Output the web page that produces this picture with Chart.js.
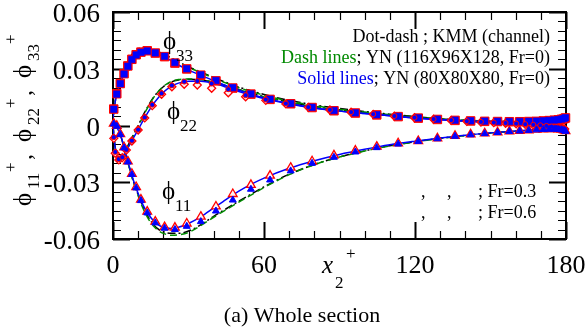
<!DOCTYPE html>
<html>
<head>
<meta charset="utf-8">
<script src="https://cdn.jsdelivr.net/npm/chart.js@4/dist/chart.umd.min.js"></script>
<style>
  html, body { margin: 0; padding: 0; background: #fff; }
  #wrap { width: 588px; height: 331px; }
</style>
</head>
<body>
<div id="wrap"><canvas id="chart" width="588" height="331"></canvas></div>
<script>
// ---- data ----
const xTicks = [0, 60, 120, 180];
const yTicks = [-0.06, -0.03, 0, 0.03, 0.06];

// x positions of the Fr=0 line profiles
const lineX = [0, 0.5, 1, 2, 3, 4, 5, 6, 7, 8, 10, 12, 14, 16, 18, 20, 23, 26, 30, 35, 40, 45, 50, 55, 60, 70, 80, 90, 100, 110, 120, 130, 140, 150, 160, 170, 180];

// Solid lines: YN (80X80X80, Fr=0)
const solid11 = [0.002, 0.0012, 0.0002, -0.0022, -0.0052, -0.0095, -0.0145, -0.0195, -0.024, -0.0285, -0.036, -0.0422, -0.0468, -0.0502, -0.0525, -0.0538, -0.0544, -0.0538, -0.0518, -0.0482, -0.0436, -0.039, -0.0347, -0.031, -0.0278, -0.0226, -0.0186, -0.0153, -0.0126, -0.0102, -0.0083, -0.0066, -0.0051, -0.0039, -0.0029, -0.0021, -0.0025];
const solid22 = [0, -0.0075, -0.013, -0.0175, -0.0178, -0.0165, -0.0142, -0.0117, -0.0092, -0.0068, -0.0022, 0.0027, 0.0072, 0.0113, 0.0147, 0.0176, 0.0206, 0.0224, 0.0234, 0.0234, 0.0223, 0.0203, 0.018, 0.016, 0.0142, 0.0114, 0.0092, 0.0076, 0.0063, 0.0051, 0.004, 0.003, 0.0022, 0.0015, 0.0008, 0.0, -0.0015];
const solid33 = [0.004, 0.009, 0.0135, 0.0188, 0.0226, 0.0262, 0.0292, 0.0318, 0.034, 0.036, 0.0383, 0.0392, 0.0394, 0.0388, 0.0377, 0.0365, 0.0343, 0.032, 0.0293, 0.0265, 0.0237, 0.021, 0.0186, 0.0165, 0.0146, 0.0116, 0.0093, 0.0076, 0.0064, 0.0052, 0.004, 0.0031, 0.0025, 0.0021, 0.002, 0.0022, 0.003];

// Dash lines: YN (116X96X128, Fr=0)
const dash11 = [0.002, 0.0012, 0.0002, -0.0022, -0.0052, -0.0097, -0.0148, -0.02, -0.0248, -0.0295, -0.0372, -0.044, -0.0492, -0.053, -0.0555, -0.057, -0.058, -0.0578, -0.0565, -0.0528, -0.0485, -0.0445, -0.0405, -0.0367, -0.0328, -0.026, -0.0207, -0.0167, -0.0135, -0.0108, -0.0087, -0.0069, -0.0053, -0.004, -0.003, -0.0023, -0.002];
const dash22 = [0, -0.0075, -0.0128, -0.017, -0.0172, -0.0158, -0.0135, -0.0108, -0.0082, -0.0056, -0.0005, 0.005, 0.01, 0.0145, 0.018, 0.0207, 0.0232, 0.0243, 0.0246, 0.0242, 0.0229, 0.021, 0.0189, 0.0169, 0.0151, 0.0122, 0.0099, 0.0081, 0.0067, 0.0054, 0.0043, 0.0033, 0.0024, 0.0017, 0.001, 0.0002, -0.001];
const dash33 = [0.004, 0.009, 0.0135, 0.019, 0.0232, 0.027, 0.03, 0.0328, 0.0352, 0.0372, 0.0395, 0.0404, 0.0404, 0.0398, 0.0387, 0.0375, 0.0355, 0.0334, 0.0307, 0.0279, 0.0251, 0.0224, 0.02, 0.0179, 0.016, 0.0129, 0.0105, 0.0086, 0.0071, 0.0057, 0.0045, 0.0035, 0.0028, 0.0023, 0.0021, 0.0021, 0.0025];

// Dot-dash: KMM (channel)
const kmm11 = [0.002, 0.0012, 0.0002, -0.0022, -0.0052, -0.0096, -0.0146, -0.0197, -0.0245, -0.0291, -0.0366, -0.0432, -0.0484, -0.0522, -0.0548, -0.0562, -0.057, -0.057, -0.0558, -0.0524, -0.048, -0.044, -0.04, -0.0362, -0.0324, -0.0258, -0.0206, -0.0166, -0.0134, -0.0107, -0.0086, -0.0068, -0.0052, -0.004, -0.003, -0.0023, -0.002];
const kmm22 = [0, -0.0075, -0.0125, -0.0168, -0.017, -0.0155, -0.0132, -0.0105, -0.0078, -0.0052, 0.0, 0.0055, 0.0104, 0.0147, 0.018, 0.0205, 0.0229, 0.024, 0.0244, 0.024, 0.0228, 0.021, 0.019, 0.0171, 0.0153, 0.0124, 0.0101, 0.0083, 0.0068, 0.0055, 0.0044, 0.0034, 0.0025, 0.0018, 0.0011, 0.0004, -0.0005];
const kmm33 = [0.004, 0.009, 0.0138, 0.0195, 0.024, 0.028, 0.0312, 0.034, 0.0365, 0.0385, 0.0405, 0.0412, 0.041, 0.0402, 0.039, 0.0378, 0.0358, 0.0337, 0.031, 0.0282, 0.0254, 0.0227, 0.0203, 0.0183, 0.0164, 0.0133, 0.0109, 0.009, 0.0074, 0.006, 0.0047, 0.0036, 0.0028, 0.0023, 0.0021, 0.0021, 0.0024];

// marker positions (phi11, phi33) and (phi22)
const gridM = [0.3, 1.5, 2.9, 4.4, 5.9, 7.5, 9.2, 11.1, 13.6, 16.8, 20.5, 24.6, 29.3, 34.9, 40.9, 47.6, 54.8, 62.4, 70.6, 79.1, 87.8, 96.3, 104.8, 113.3, 121.3, 128.9, 135.9, 142.1, 147.7, 152.8, 157.5, 161.6, 165.2, 168.3, 171.0, 173.3, 175.3, 176.9, 178.2, 179.2, 179.8];
const gridV = [0.3, 0.9, 2.3, 3.7, 5.3, 7.5, 10.0, 12.6, 15.6, 19.3, 23.4, 28.3, 33.5, 39.2, 45.8, 52.7, 60.7, 68.7, 77.6, 86.2, 94.6, 103.4, 111.8, 119.8, 127.4, 134.4, 140.6, 146.2, 151.3, 156.0, 160.2, 163.8, 167.0, 169.8, 172.2, 174.3, 176.1, 177.6, 178.7, 179.5];

// Fr=0.3
const fr3_11 = [0.001, -0.0002, -0.0045, -0.0115, -0.019, -0.0255, -0.0325, -0.0392, -0.0455, -0.0508, -0.0537, -0.054, -0.0518, -0.0482, -0.0428, -0.0362, -0.0314, -0.0265, -0.0223, -0.0189, -0.0158, -0.0133, -0.0112, -0.0094, -0.0082, -0.0068, -0.0055, -0.0047, -0.0041, -0.0036, -0.0031, -0.0028, -0.0025, -0.0022, -0.002, -0.0019, -0.0019, -0.002, -0.0022, -0.0025, -0.003];
const fr3_22 = [-0.0068, -0.0147, -0.0182, -0.017, -0.013, -0.0082, -0.0024, 0.004, 0.0105, 0.0165, 0.0205, 0.0218, 0.0214, 0.0197, 0.0173, 0.0152, 0.0133, 0.0114, 0.0096, 0.0082, 0.007, 0.0059, 0.0049, 0.0041, 0.0033, 0.0027, 0.0022, 0.0018, 0.0015, 0.0012, 0.0009, 0.0006, 0.0003, 0.0, -0.0003, -0.0006, -0.0009, -0.0012, -0.0015, -0.0018];
const fr3_33 = [0.0087, 0.0168, 0.0222, 0.0274, 0.0315, 0.035, 0.0374, 0.0388, 0.0395, 0.0383, 0.0364, 0.033, 0.0299, 0.0266, 0.0236, 0.0198, 0.0166, 0.0138, 0.0115, 0.0095, 0.0078, 0.0066, 0.0056, 0.0047, 0.0039, 0.0032, 0.0027, 0.0024, 0.0022, 0.0021, 0.002, 0.002, 0.0021, 0.0022, 0.0024, 0.0026, 0.0028, 0.003, 0.0033, 0.0036, 0.004];

// Fr=0.6
const fr6_11 = [0.0008, -0.0004, -0.0048, -0.0118, -0.0193, -0.0259, -0.033, -0.0397, -0.0462, -0.0515, -0.0543, -0.055, -0.0533, -0.0508, -0.0452, -0.0394, -0.0337, -0.0288, -0.024, -0.02, -0.0168, -0.014, -0.0117, -0.0098, -0.0084, -0.007, -0.0057, -0.0049, -0.0043, -0.0037, -0.0032, -0.0029, -0.0026, -0.0023, -0.0021, -0.002, -0.002, -0.0021, -0.0023, -0.0026, -0.0031];
const fr6_22 = [-0.0062, -0.014, -0.0178, -0.0168, -0.0128, -0.008, -0.0022, 0.0043, 0.011, 0.017, 0.0212, 0.0232, 0.0235, 0.0222, 0.0192, 0.016, 0.0137, 0.0116, 0.0097, 0.0083, 0.0071, 0.006, 0.005, 0.0042, 0.0034, 0.0028, 0.0023, 0.0019, 0.0016, 0.0013, 0.001, 0.0007, 0.0004, 0.0001, -0.0002, -0.0005, -0.0008, -0.0011, -0.0014, -0.0017];
const fr6_33 = [0.0086, 0.0166, 0.0221, 0.0272, 0.0313, 0.0349, 0.0373, 0.0387, 0.0394, 0.0384, 0.0366, 0.0333, 0.03, 0.0268, 0.0238, 0.02, 0.0167, 0.0139, 0.0116, 0.0096, 0.0079, 0.0067, 0.0057, 0.0048, 0.004, 0.0033, 0.0028, 0.0025, 0.0023, 0.0022, 0.0021, 0.0021, 0.0022, 0.0023, 0.0025, 0.0027, 0.0029, 0.0031, 0.0034, 0.0037, 0.0041];

const SERIF = '"Liberation Serif", "Times New Roman", serif';
const PHI = '\u03d5';

function pts(xs, ys) {
    return xs.map((x, i) => ({ x: x, y: ys[i] }));
}

function lineSet(ys, color, dash, order) {
    return {
        data: pts(lineX, ys),
        borderColor: color,
        borderWidth: 1.5,
        borderDash: dash,
        pointRadius: 0,
        cubicInterpolationMode: 'monotone',
        fill: false,
        order: order
    };
}

function markSet(xs, ys, style, radius, fillColor, edgeColor, edgeWidth, order) {
    return {
        data: pts(xs, ys),
        showLine: false,
        pointStyle: style,
        pointRadius: radius,
        pointBackgroundColor: fillColor,
        pointBorderColor: edgeColor,
        pointBorderWidth: edgeWidth,
        clip: false,
        order: order
    };
}

// frame, inward major/minor ticks
const framePlugin = {
    id: 'framePlugin',
    beforeDatasetsDraw(chart) {
        const { ctx, chartArea: a, scales: { x, y } } = chart;
        ctx.save();
        ctx.strokeStyle = '#000';
        for (let v = 0; v <= 180; v += 10) {
            const px = Math.round(x.getPixelForValue(v)) + 0.5;
            const major = v % 60 === 0;
            const len = major ? 17 : 8;
            ctx.lineWidth = major ? 2 : 1.2;
            ctx.beginPath();
            ctx.moveTo(px, a.bottom); ctx.lineTo(px, a.bottom - len);
            ctx.moveTo(px, a.top); ctx.lineTo(px, a.top + len);
            ctx.stroke();
        }
        for (let i = -12; i <= 12; i++) {
            const py = Math.round(y.getPixelForValue(i * 0.005)) + 0.5;
            const major = i % 6 === 0;
            const len = major ? 17 : 8;
            ctx.lineWidth = major ? 2 : 1.2;
            ctx.beginPath();
            ctx.moveTo(a.left, py); ctx.lineTo(a.left + len, py);
            ctx.moveTo(a.right, py); ctx.lineTo(a.right - len, py);
            ctx.stroke();
        }
        ctx.lineWidth = 2;
        ctx.strokeRect(a.left, a.top, a.right - a.left, a.bottom - a.top);
        ctx.restore();
    },
    afterDraw(chart) {
        const ctx = chart.ctx;
        ctx.save();
        ctx.textBaseline = 'alphabetic';
        ctx.fillStyle = '#000';

        // y-axis title, rotated: phi11+, phi22+, phi33+
        ctx.save();
        ctx.translate(31, 0);
        ctx.rotate(-Math.PI / 2);
        const starts = [206, 142, 78];
        const subs = ['11', '22', '33'];
        for (let k = 0; k < 3; k++) {
            const s = -starts[k];
            ctx.font = '25px ' + SERIF;
            ctx.fillText(PHI, s, 0);
            ctx.font = '17px ' + SERIF;
            ctx.fillText(subs[k], s + 17, 8);
            ctx.fillText('+', s + 34, -15);
            if (k < 2) {
                ctx.font = '24px ' + SERIF;
                ctx.fillText(',', s + 46, 0);
            }
        }
        ctx.restore();

        // curve labels
        const labels = [['33', 163, 49], ['22', 167, 119], ['11', 162, 199]];
        labels.forEach(l => {
            ctx.font = '25px ' + SERIF;
            ctx.fillText(PHI, l[1], l[2]);
            ctx.font = '17px ' + SERIF;
            ctx.fillText(l[0], l[1] + 13, l[2] + 12);
        });

        // x-axis title
        ctx.font = 'italic 25px ' + SERIF;
        ctx.fillText('x', 322, 273);
        ctx.font = '17px ' + SERIF;
        ctx.fillText('2', 335, 288);
        ctx.fillText('+', 346, 259);

        // caption
        ctx.font = '22px ' + SERIF;
        ctx.textAlign = 'center';
        ctx.fillText('(a) Whole section', 302, 322);

        // legend, top right
        ctx.font = '18px ' + SERIF;
        ctx.textAlign = 'right';
        const rx = 550;
        ctx.fillText('Dot-dash ; KMM (channel)', rx, 42);
        const rows = [['Dash lines', '; YN (116X96X128, Fr=0)', '#008a00', 63],
                      ['Solid lines', '; YN (80X80X80, Fr=0)', '#0000ee', 84]];
        rows.forEach(r => {
            ctx.fillStyle = '#000';
            ctx.fillText(r[1], rx, r[3]);
            const w = ctx.measureText(r[1]).width;
            ctx.fillStyle = r[2];
            ctx.fillText(r[0], rx - w, r[3]);
        });

        // legend, bottom right (symbols missing in the original)
        ctx.fillStyle = '#000';
        ctx.textAlign = 'left';
        [['; Fr=0.3', 197], ['; Fr=0.6', 218]].forEach(r => {
            ctx.fillText(',', 421, r[1]);
            ctx.fillText(',', 447, r[1]);
            ctx.fillText(r[0], 478, r[1]);
        });
        ctx.restore();
    }
};

const ctx = document.getElementById('chart').getContext('2d');
new Chart(ctx, {
    type: 'line',
    data: {
        datasets: [
            lineSet(kmm11, '#000', [8, 3, 2, 3], 30),
            lineSet(kmm22, '#000', [8, 3, 2, 3], 30),
            lineSet(kmm33, '#000', [8, 3, 2, 3], 30),
            lineSet(dash11, '#008a00', [7, 4], 29),
            lineSet(dash22, '#008a00', [7, 4], 29),
            lineSet(dash33, '#008a00', [7, 4], 29),
            lineSet(solid11, '#0000ff', [], 28),
            lineSet(solid22, '#0000ff', [], 28),
            lineSet(solid33, '#0000ff', [], 28),
            markSet(gridM, fr3_11, 'triangle', 5, '#fff0f0', '#ff0000', 1.3, 20),
            markSet(gridV, fr3_22, 'rectRot', 4, '#fff0f0', '#ff0000', 1.3, 20),
            markSet(gridM, fr3_33, 'rect', 6, '#ff0000', '#ff0000', 1, 20),
            markSet(gridM, fr6_11, 'triangle', 4, '#0000ff', '#0000ff', 1, 10),
            markSet(gridV, fr6_22, 'circle', 2.5, '#0000ff', '#ff0000', 1, 10),
            markSet(gridM, fr6_33, 'rect', 4.6, '#0000ff', '#0000ff', 0.5, 10)
        ]
    },
    options: {
        responsive: false,
        animation: false,
        devicePixelRatio: 1,
        layout: { padding: { left: 0, top: 12, right: 22, bottom: 0 } },
        plugins: { legend: { display: false }, tooltip: { enabled: false } },
        scales: {
            x: {
                type: 'linear',
                min: 0,
                max: 180,
                afterBuildTicks: s => { s.ticks = xTicks.map(v => ({ value: v })); },
                afterFit: s => { s.height = 92; s.paddingLeft = 0; s.paddingRight = 0; },
                grid: { display: false },
                border: { display: false },
                ticks: {
                    color: '#000',
                    padding: 6,
                    maxRotation: 0,
                    font: { family: SERIF, size: 26, lineHeight: 1 }
                }
            },
            y: {
                type: 'linear',
                min: -0.06,
                max: 0.06,
                afterBuildTicks: s => { s.ticks = yTicks.map(v => ({ value: v })); },
                afterFit: s => { s.width = 113; s.paddingTop = 0; s.paddingBottom = 0; },
                grid: { display: false },
                border: { display: false },
                ticks: {
                    color: '#000',
                    padding: 5,
                    labelOffset: 3,
                    callback: v => String(v),
                    font: { family: SERIF, size: 27, lineHeight: 1 }
                }
            }
        }
    },
    plugins: [framePlugin]
});
</script>
</body>
</html>
